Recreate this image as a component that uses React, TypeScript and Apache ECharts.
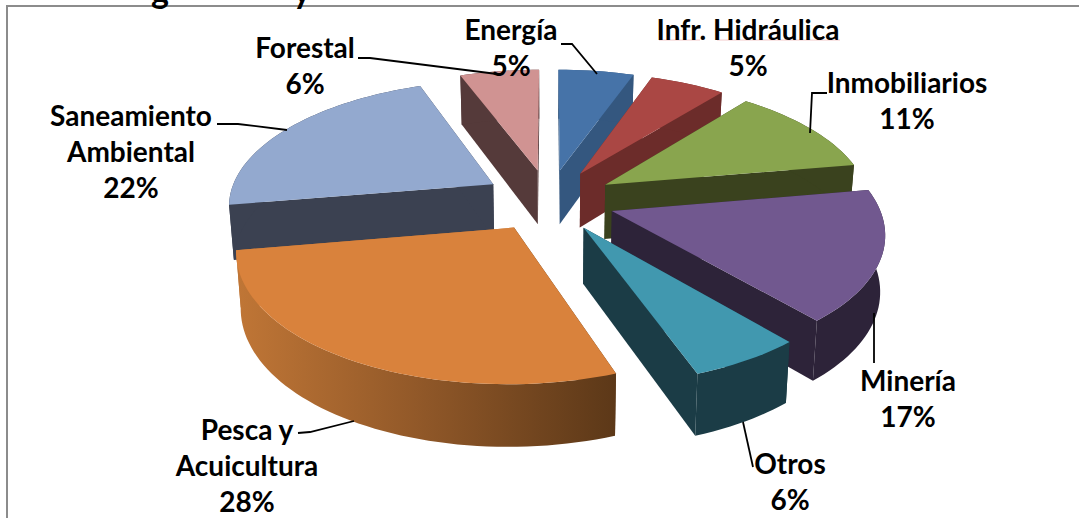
import React, { useEffect, useRef } from "react";
import * as echarts from "echarts";

const categories = ["Energía", "Infr. Hidráulica", "Inmobiliarios", "Minería", "Otros", "Pesca y\nAcuicultura", "Saneamiento\nAmbiental", "Forestal"];
const values = [5, 5, 11, 17, 6, 28, 22, 6];
const topColors = ["#4673A8", "#AA4744", "#89A54E", "#71588F", "#4198AF", "#D9823C", "#93A9CF", "#D09392"];
const sideColors = ["#34577F", "#6C2C2A", "#3A421E", "#2D2339", "#1B3C46", "#8A5426", "#3B4151", "#553A3A"];
const labelCenters = [[511, 47], [748, 47], [907, 100], [908, 398], [790, 481], [247, 465], [131, 151], [305, 65]];
const leaders = [
  [[561, 44], [572, 44], [597, 74]],
  [],
  [[827, 93], [812, 93], [810, 133]],
  [[874, 313], [874, 363]],
  [[743, 422], [753, 467]],
  [[298, 433], [310, 432], [354, 421]],
  [[217, 124], [238, 124], [287, 130]],
  [[358, 58], [370, 58], [497, 74]],
];

const CENTER = [549, 200];
const EXPLODE = 0.25;
const RX = 265, RY = 124, PERSP = 0.15;
const WARP = 0.035, BUMP = 0.068, BUMP_END = (150 / 180) * Math.PI;
const BACK_BUMP = 0.03, BACK_START = (259 / 180) * Math.PI;
const DEPTH = 55, VANISH_X = 550, BOTTOM_SCALE = 0.985;
const FONT = "Lato";

const total = values.reduce((a, b) => a + b, 0);
const starts: number[] = [];
values.reduce((acc, v, i) => { starts[i] = acc; return acc + v; }, 0);
const midCos = (i: number) => Math.cos(((starts[i] + values[i] / 2) / total) * Math.PI * 2);
const paintOrder = values.map((_, i) => i).sort((a, b) => midCos(b) - midCos(a));
const warp = (t: number) =>
  t +
  WARP * Math.sin(t / 2) ** 2 +
  (t < BUMP_END ? BUMP * Math.sin((t / BUMP_END) * Math.PI) : 0) +
  (t > BACK_START ? BACK_BUMP * Math.sin(((t - BACK_START) / (2 * Math.PI - BACK_START)) * Math.PI) : 0);

function renderSlice(params: any, api: any) {
  const i = api.value(1) as number;
  const value = api.value(0) as number;
  const a0 = (starts[i] / total) * Math.PI * 2;
  const a1 = ((starts[i] + value) / total) * Math.PI * 2;
  const mid = warp((a0 + a1) / 2);
  const ex = EXPLODE * Math.sin(mid);
  const ey = EXPLODE * Math.cos(mid);
  const project = (pu: number, pv: number) => {
    const w = 1 + PERSP * pv;
    return { x: CENTER[0] + (RX * pu) / w, y: CENTER[1] - (RY * pv) / w, pv };
  };
  const down = (p: { x: number; y: number; pv: number }) => [
    VANISH_X + (p.x - VANISH_X) * BOTTOM_SCALE,
    p.y + DEPTH / (1 + 0.1 * p.pv),
  ];
  const apexP = project(ex, ey);
  const apex = [apexP.x, apexP.y];
  const apexB = down(apexP);
  const steps = Math.max(8, Math.ceil(value * 2));
  const arc: number[][] = [];
  const arcB: number[][] = [];
  for (let s = 0; s <= steps; s++) {
    const t = warp(a0 + ((a1 - a0) * s) / steps);
    const p = project(ex + Math.sin(t), ey + Math.cos(t));
    arc.push([p.x, p.y]);
    arcB.push(down(p));
  }
  const side = sideColors[i];
  const isGradient = value === Math.max(...values);
  const wallFill = isGradient
    ? new echarts.graphic.LinearGradient(1, 0, 0, 0, [
        { offset: 0, color: "#5C3818" },
        { offset: 0.5, color: "#8F5728" },
        { offset: 1, color: "#C07636" },
      ])
    : side;
  const poly = (points: number[][], fill: any) => ({
    type: "polygon",
    shape: { points },
    style: { fill, stroke: null },
  });
  return {
    type: "group",
    children: [
      poly([apex, arc[0], arcB[0], apexB], isGradient ? "#5C3818" : side),
      poly([apex, arc[steps], arcB[steps], apexB], isGradient ? "#C07636" : side),
      poly([...arc, ...arcB.slice().reverse()], wallFill),
      poly([apex, ...arc], topColors[i]),
    ],
  };
}

function renderLabel(params: any, api: any) {
  const i = api.value(1) as number;
  const pos = labelCenters[i];
  const children: any[] = [
    {
      type: "text",
      style: {
        text: `${categories[i]}\n${api.value(0)}%`,
        x: pos[0],
        y: pos[1],
        align: "center",
        verticalAlign: "middle",
        fontFamily: FONT,
        fontWeight: "bold",
        fontSize: 28,
        lineHeight: 36,
        fill: "#000000",
      },
    },
  ];
  if (leaders[i].length) {
    children.push({
      type: "polyline",
      shape: { points: leaders[i] },
      style: { stroke: "#000000", lineWidth: 1.8, fill: null },
    });
  }
  return { type: "group", children };
}

export default function App() {
  const ref = useRef<HTMLDivElement>(null);
  useEffect(() => {
    document.body.style.margin = "0";
    const chart = echarts.init(ref.current!, null, { renderer: "svg" });
    chart.setOption({
      animation: false,
      backgroundColor: "#ffffff",
      graphic: [
        { type: "polyline", shape: { points: [[7, 518], [7, 6], [1079, 6]] }, style: { stroke: "#8C8C8C", lineWidth: 2, fill: null } },
        { type: "line", shape: { x1: 659, y1: 40, x2: 700, y2: 40 }, style: { stroke: "#F4C9C9", lineWidth: 1 } },
        { type: "line", shape: { x1: 717, y1: 40, x2: 840, y2: 40 }, style: { stroke: "#F4C9C9", lineWidth: 1 } },
        { type: "text", style: { text: "g", x: 160, y: -11, align: "center", verticalAlign: "middle", fontFamily: FONT, fontWeight: "bold", fontSize: 34, fill: "#000" } },
        { type: "text", style: { text: "y", x: 302, y: -11, align: "center", verticalAlign: "middle", fontFamily: FONT, fontWeight: "bold", fontSize: 34, fill: "#000" } },
      ],
      series: [
        {
          type: "custom",
          coordinateSystem: "none",
          renderItem: renderSlice,
          data: paintOrder.map((i) => [values[i], i]),
          z: 2,
          silent: true,
        },
        {
          type: "custom",
          coordinateSystem: "none",
          renderItem: renderLabel,
          data: values.map((v, i) => [v, i]),
          z: 3,
          silent: true,
        },
      ],
    });
    return () => chart.dispose();
  }, []);
  return <div ref={ref} style={{ position: "absolute", left: 0, top: 0, width: 1079, height: 518 }} />;
}
